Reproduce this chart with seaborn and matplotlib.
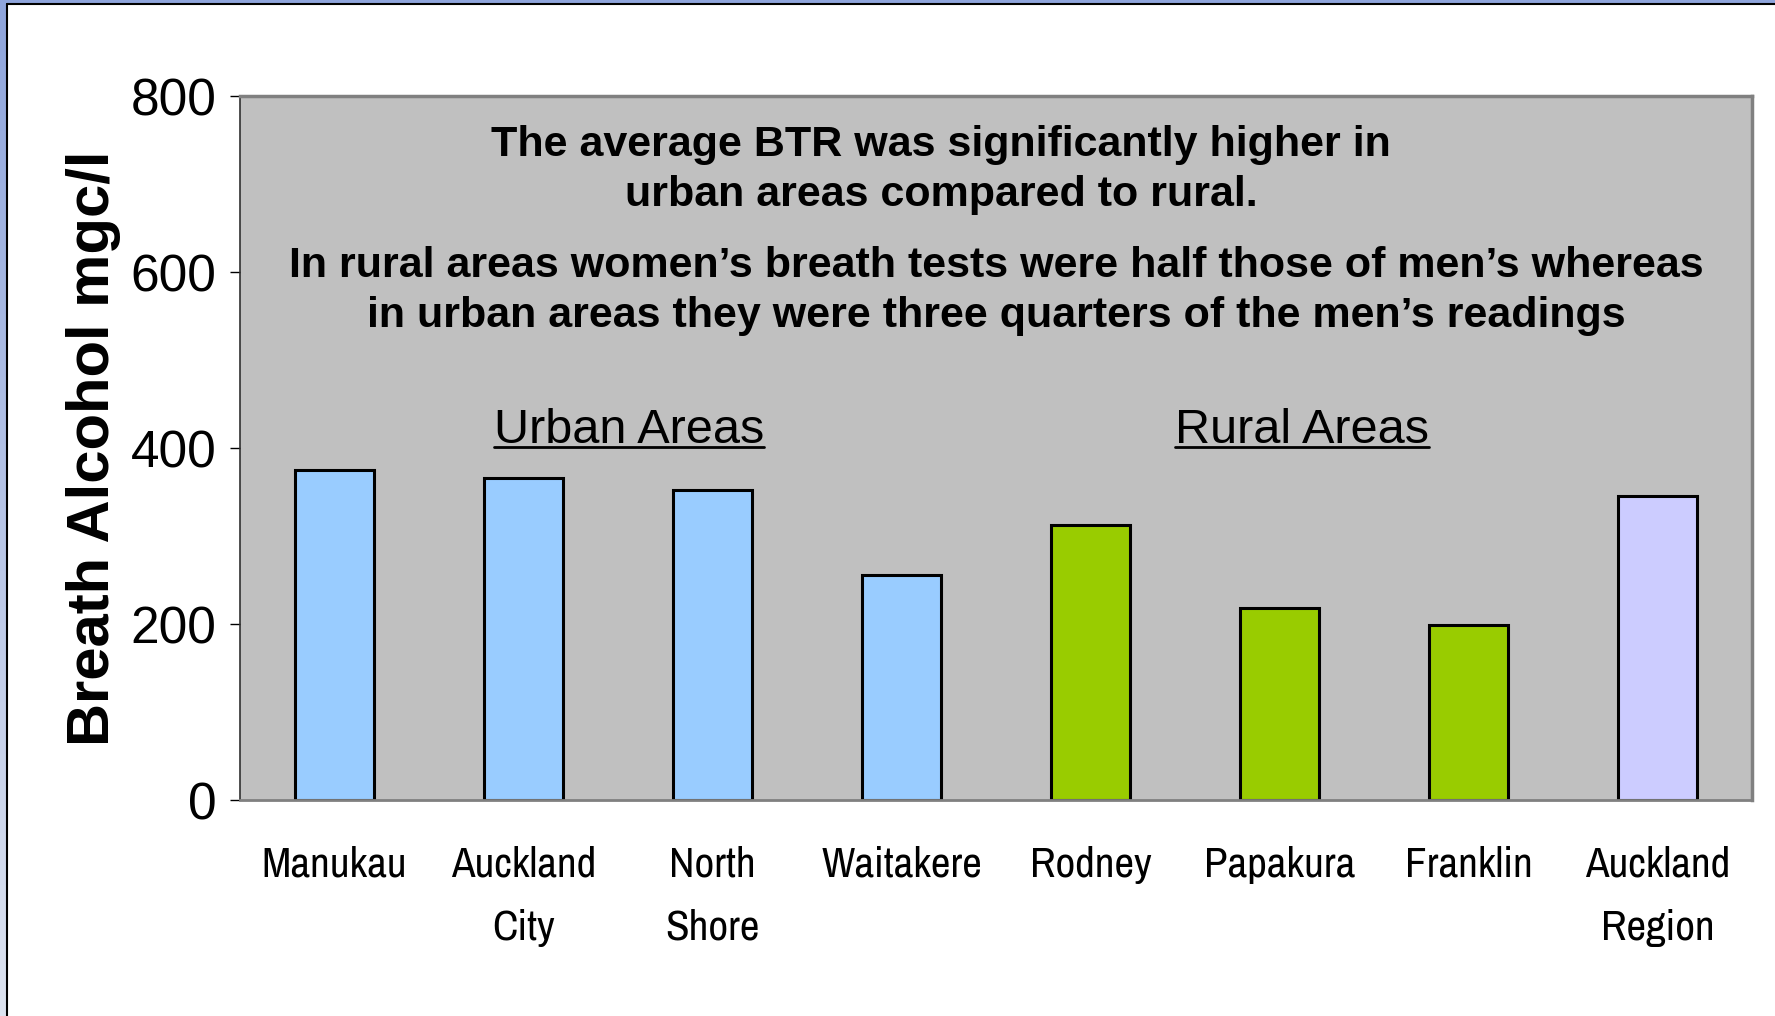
import numpy as np
import pandas as pd
import matplotlib
matplotlib.use('Agg')
import matplotlib.pyplot as plt
from matplotlib import font_manager
from matplotlib.lines import Line2D
from matplotlib.patches import Rectangle
import seaborn as sns

# data
areas = ['Manukau', 'Auckland\nCity', 'North\nShore', 'Waitakere',
         'Rodney', 'Papakura', 'Franklin', 'Auckland\nRegion']
btr = [375, 366, 352, 256, 313, 218, 199, 346]
area_type = ['Urban', 'Urban', 'Urban', 'Urban', 'Rural', 'Rural', 'Rural', 'Region']
type_colors = {'Urban': '#99CCFF', 'Rural': '#99CC00', 'Region': '#CCCCFF'}

y_ticks = [0, 200, 400, 600, 800]
note_1 = 'The average BTR was significantly higher in\nurban areas compared to rural.'
note_2 = ('In rural areas women\u2019s breath tests were half those of men\u2019s whereas\n'
          'in urban areas they were three quarters of the men\u2019s readings')

df = pd.DataFrame({'Area': areas, 'BTR': btr, 'Type': area_type})

sns.set_theme(style='white')
plt.rcParams['font.family'] = ['Liberation Sans', 'DejaVu Sans']
for key in ['text.color', 'axes.labelcolor', 'xtick.color', 'ytick.color']:
    plt.rcParams[key] = 'black'

# the category labels are set in a narrow face; fall back to a smaller size if none
installed = {f.name for f in font_manager.fontManager.ttflist}
narrow, narrow_size, narrow_ls = 'Liberation Sans', 26, 1.6
for name, size, ls in [('Liberation Sans Narrow', 31, 1.6), ('Archivo Narrow', 31, 1.8),
                       ('Roboto Condensed', 30, 1.6)]:
    if name in installed:
        narrow, narrow_size, narrow_ls = name, size, ls
        break

fig = plt.figure(figsize=(17.75, 10.16), dpi=100)
fig.patch.set_facecolor('white')

# slide frame: blue strips on the top and left edges
grad = fig.add_axes([0, 0, 7 / 1775, 1])
grad.imshow(np.linspace(0, 1, 256).reshape(-1, 1), aspect='auto',
            cmap=matplotlib.colors.LinearSegmentedColormap.from_list('s', ['#8FA5DC', '#DDE3F0']))
grad.set_axis_off()
fig.patches.append(Rectangle((0, 1 - 4 / 1016), 1, 4 / 1016, transform=fig.transFigure,
                             facecolor='#8FA5DC', edgecolor='none'))
fig.lines.append(Line2D([7 / 1775, 7 / 1775], [0, 1 - 4 / 1016], transform=fig.transFigure,
                        color='black', lw=1.5))
fig.lines.append(Line2D([7 / 1775, 1], [1 - 4 / 1016, 1 - 4 / 1016], transform=fig.transFigure,
                        color='black', lw=1.5))

ax = fig.add_axes([240 / 1775, 1 - 800 / 1016, 1512 / 1775, 704 / 1016])
ax.set_facecolor('#C0C0C0')

sns.barplot(data=df, x='Area', y='BTR', hue='Type', palette=type_colors,
            dodge=False, legend=False, width=0.42, edgecolor='black',
            linewidth=2.2, saturation=1, ax=ax)

ax.set_xlim(-0.5, len(areas) - 0.5)
ax.set_ylim(0, 800)
ax.set_yticks(y_ticks)
ax.set_yticklabels([str(v) for v in y_ticks], fontsize=37)
ax.set_xticks(range(len(areas)))
ax.set_xticklabels(areas, fontsize=narrow_size, family=narrow, linespacing=narrow_ls)
ax.set_xticks(np.arange(-0.5, len(areas)), minor=True)
ax.tick_params(axis='x', which='major', length=0, pad=33)
ax.tick_params(axis='x', which='minor', length=8, width=1, color='black', direction='out')
ax.tick_params(axis='y', length=7, width=1, color='black', direction='out', pad=10, left=True)

ax.set_xlabel('')
ax.set_ylabel('Breath Alcohol mgc/l', fontsize=43, fontweight='bold')
ax.yaxis.set_label_coords(-0.079, 0.5)

for side in ['top', 'right']:
    ax.spines[side].set_color('#808080')
    ax.spines[side].set_linewidth(2.5)
ax.spines['bottom'].set_color('#808080')
ax.spines['bottom'].set_linewidth(2)
ax.spines['left'].set_color('#303030')
ax.spines['left'].set_linewidth(1.2)

ax.text(3.21, 716, note_1, ha='center', va='center', fontsize=31,
        fontweight='bold', linespacing=1.32)
ax.text(3.5, 578, note_2, ha='center', va='center', fontsize=31,
        fontweight='bold', linespacing=1.32)

heads = [ax.text(1.56, 420, 'Urban Areas', ha='center', va='center', fontsize=35),
         ax.text(5.12, 420, 'Rural Areas', ha='center', va='center', fontsize=35)]

# underline the two group headings
fig.canvas.draw()
renderer = fig.canvas.get_renderer()
inv = fig.transFigure.inverted()
for t in heads:
    bb = t.get_window_extent(renderer)
    (x0, y0), (x1, _) = inv.transform([[bb.x0, bb.y0 + 6], [bb.x1, bb.y0]])
    fig.lines.append(Line2D([x0, x1], [y0, y0], transform=fig.transFigure,
                            color='black', lw=2))

fig.savefig('out.png', dpi=100)
